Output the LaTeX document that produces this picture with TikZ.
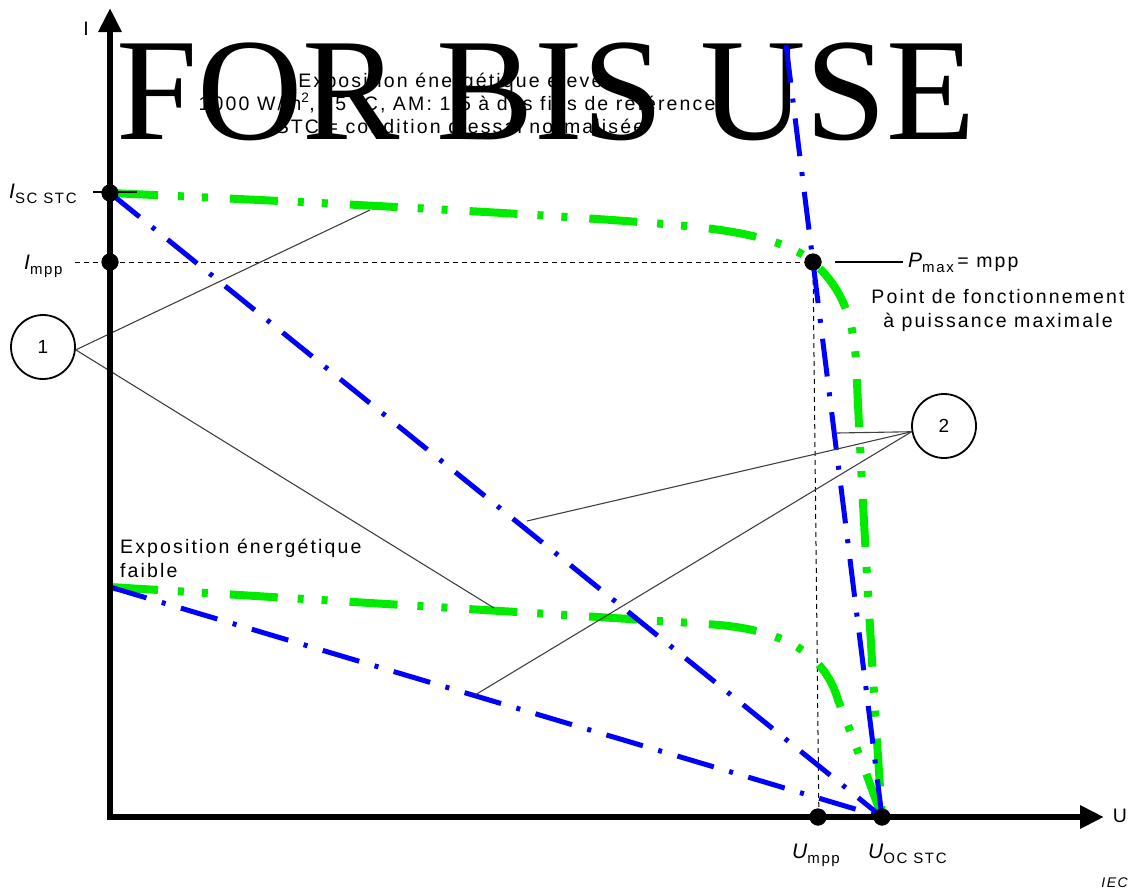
\documentclass[tikz,border=0pt]{standalone}
\usepackage{fontspec}
\setmainfont{Liberation Sans}[LetterSpace=11]
\newfontfamily\wmfont{Liberation Serif}
\usetikzlibrary{arrows.meta}
\definecolor{ivgreen}{RGB}{0,235,0}
\definecolor{ivblue}{RGB}{0,0,255}
\newcommand\symsub[2]{{\itshape #1}\raisebox{-5pt}{\fontsize{15}{15}\selectfont #2}}

\begin{document}
\begin{tikzpicture}[x=1pt,y=-1pt,
  greencurve/.style={ivgreen, line width=8pt, dash pattern=on 48pt off 20pt on 6pt off 18pt on 6pt off 22pt},
  bluecurve/.style={ivblue, line width=5pt, dash pattern=on 38pt off 16pt on 4pt off 16pt},
  axis/.style={line width=6pt, -{Triangle[length=24pt,width=22pt]}},
  dot/.style={circle, fill=black, inner sep=0pt, minimum size=17pt},
  guide/.style={line width=1pt, dash pattern=on 5pt off 4pt},
  leader/.style={line width=1.1pt, black!75},
  callout/.style={circle, draw, line width=1.8pt, minimum size=64pt, inner sep=0pt, font=\fontsize{19}{19}\selectfont},
  lbl/.style={inner sep=0pt, font=\fontsize{19.5}{23}\selectfont},
  sym/.style={inner sep=0pt, font=\fontsize{21}{23}\selectfont},
]
\useasboundingbox (0,0) rectangle (1134,889);

% key points
\node[dot] (isc)  at (110,193) {};
\node[dot] (impp) at (110,262) {};
\node[dot] (mpp)  at (813,262) {};
\node[dot] (umpp) at (818,817) {};
\node[dot] (uoc)  at (882,817) {};
\coordinate (ilow) at (110,587);
\coordinate (rtop) at (786,45);
\coordinate (impl) at (75,262);
\coordinate (umpb) at (819,828);

% guide lines to the maximum power point
\draw[guide] (impl) -- (mpp.center);
\draw[guide] (mpp.center) -- (umpb);

% heading, one node per line
\node[lbl, anchor=base] (head1) at (457,87) {Exposition énergétique élevée};
\node[lbl, anchor=base] (head2) at (457,110) {1\,000 W/m\textsuperscript{2}, 25 °C, AM: 1,5 à des fins de référence};
\node[lbl, anchor=base] (head3) at (460,133) {STC = condition d'essai normalisée};

\node[inner sep=0pt, anchor=base west, font=\wmfont\fontsize{146}{146}\selectfont] (wm) at (116,139) {FOR BIS USE};

% characteristic curves
\draw[greencurve] (isc.center) .. controls (400,206) and (640,220) .. (705,228)
  .. controls (765,235) and (797,248) .. (mpp.center)
  .. controls (842,288) and (853,318) .. (856,360)
  .. controls (862,500) and (874,700) .. (uoc.center);
\draw[greencurve] (ilow) .. controls (400,605) and (620,618) .. (705,624)
  .. controls (785,628) and (825,655) .. (838,700)
  .. controls (852,735) and (868,778) .. (uoc.center);
\draw[bluecurve] (isc.center) -- (uoc.center);
\draw[bluecurve] (ilow) -- (uoc.center);
\draw[bluecurve] (rtop) -- (uoc.center);

% callouts
\node[callout] (c1) at (43,347) {1};
\node[callout] (c2) at (944,426) {2};
\coordinate (t1a) at (370,210);
\coordinate (t1b) at (494,608);
\coordinate (t2a) at (837,433);
\coordinate (t2b) at (527,521);
\coordinate (t2c) at (475,695);
\draw[leader] (c1.-5) -- (t1a);
\draw[leader] (c1.-5) -- (t1b);
\draw[leader] (c2.190) -- (t2a);
\draw[leader] (c2.190) -- (t2b);
\draw[leader] (c2.190) -- (t2c);

% axes
\coordinate (o) at (110,817);
\coordinate (itop) at (110,8);
\coordinate (uend) at (1104,817);
\draw[axis] ([yshift=-3pt]o) -- (itop);
\draw[axis] ([xshift=-3pt]o) -- (uend);
\node[lbl, anchor=base] (ilab) at (86,35) {I};
\node[lbl, anchor=base] (ulab) at (1120,822) {U};

% tick and dots on top
\coordinate (tka) at (93,192);
\coordinate (tkb) at (137,192);
\draw[line width=1.2pt] (tka) -- (tkb);
\foreach \p in {isc,impp,mpp,umpp,uoc} \node[dot] at (\p) {};

% labels
\node[sym, anchor=base west] (lisc) at (9,198) {\symsub{I}{SC STC}};
\node[sym, anchor=base west] (limpp) at (24,269) {\symsub{I}{mpp}};
\node[sym, anchor=base west] (lumpp) at (792,858) {\symsub{U}{mpp}};
\node[sym, anchor=base west] (luoc) at (868,858) {\symsub{U}{OC STC}};
\node[sym, anchor=base west] (lpmax) at (908,267) {\symsub{P}{max}\,{\fontsize{19.5}{19.5}\selectfont = mpp}};
\coordinate (pla) at (835,262);
\coordinate (plb) at (903,262);
\draw[line width=1.1pt] (pla) -- (plb);
\node[lbl, anchor=base] (lpt1) at (998,303) {Point de fonctionnement};
\node[lbl, anchor=base] (lpt2) at (998,327) {à puissance maximale};
\node[lbl, anchor=base west] (llow1) at (120,553) {Exposition énergétique};
\node[lbl, anchor=base west] (llow2) at (120,577) {faible};
\node[inner sep=0pt, anchor=base east, font=\fontsize{14}{14}\selectfont\itshape] (iec) at (1128,887) {IEC};
\end{tikzpicture}
\end{document}
